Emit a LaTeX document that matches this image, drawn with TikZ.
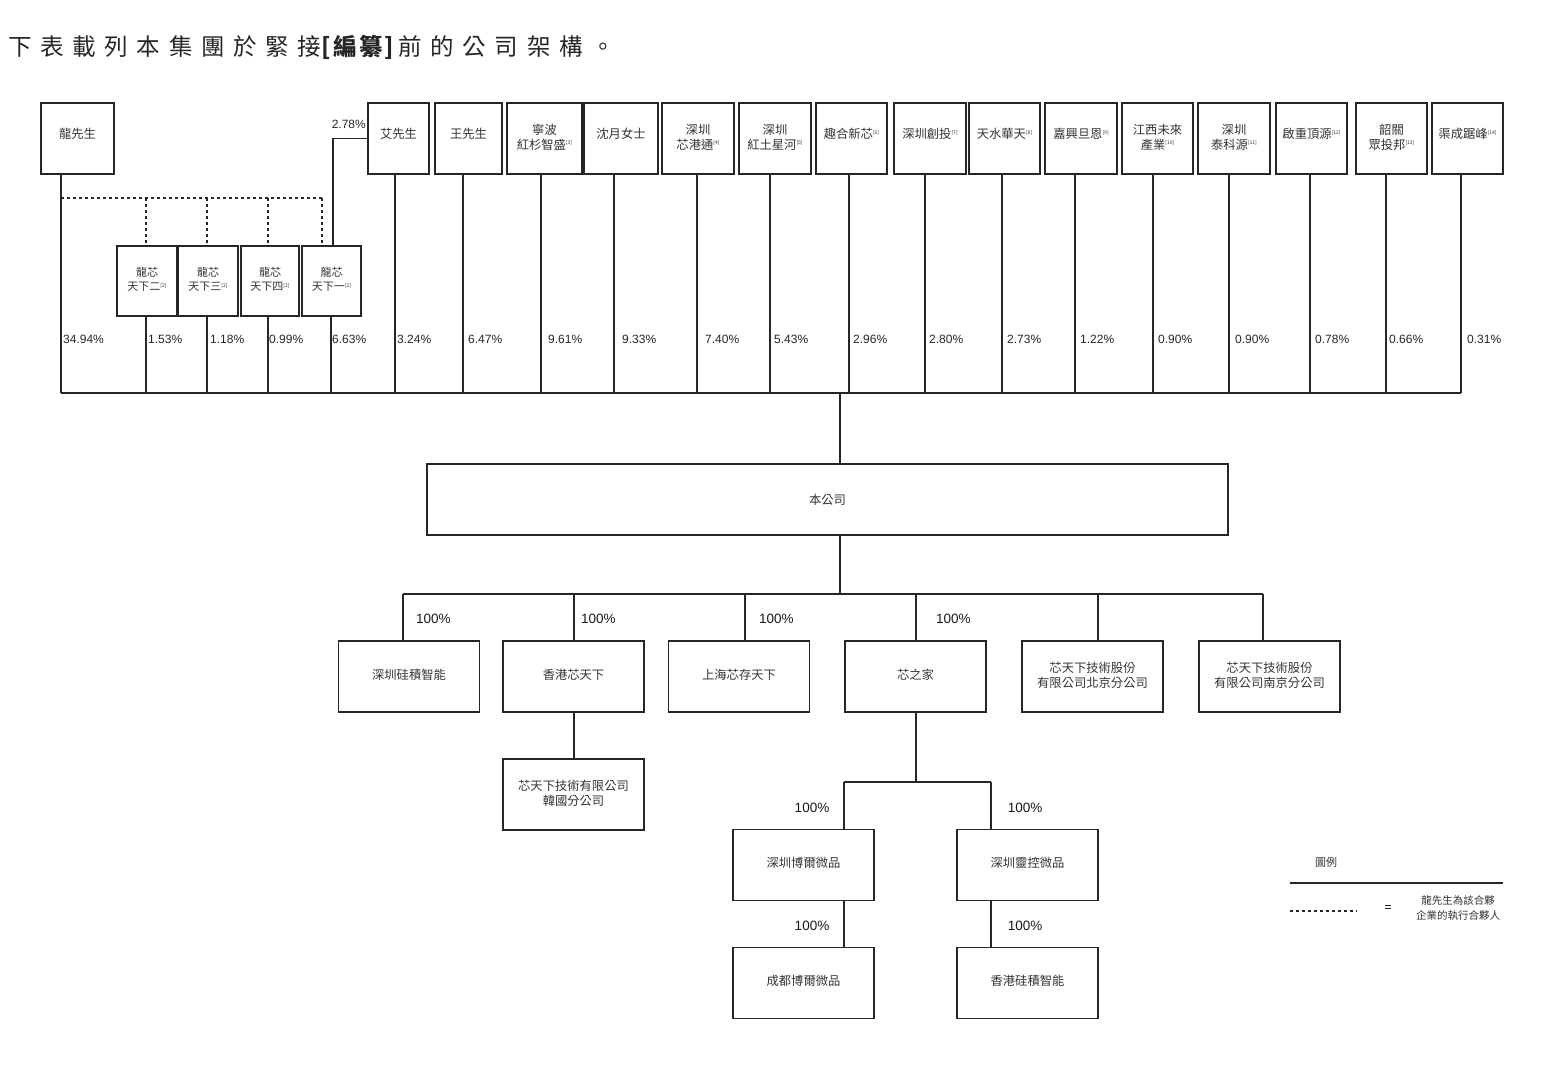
\documentclass[tikz,border=0pt]{standalone}
\usepackage{fontspec}
\setmainfont{Noto Sans CJK TC}
\newfontfamily\latf{Liberation Sans}
\newfontfamily\titlef[LetterSpace=37]{Noto Sans CJK TC}
\newfontfamily\titleb[LetterSpace=10]{Noto Sans CJK TC}
\newcommand\nt[1]{\raisebox{0.6ex}{\fontsize{5}{5}\selectfont[#1]}}
\newcommand\bx[1]{\raisebox{11pt}{\begin{tabular}{@{}c@{}}#1\end{tabular}}}
\newcommand\bs[1]{\raisebox{5.5pt}{\begin{tabular}{@{}c@{}}#1\end{tabular}}}
\tikzset{
  box/.style={draw=black!85, line width=1.5pt, inner sep=0pt, align=center,
    text=black!80, font=\fontsize{12.3}{15}\selectfont},
  tb/.style={box, minimum height=71pt},
  sb/.style={box, minimum height=70pt, font=\fontsize{11}{14}\selectfont},
  rb/.style={box, minimum width=141pt, minimum height=71pt},
  conn/.style={draw=black!85, line width=1.1pt},
  dconn/.style={draw=black!85, line width=1.1pt, dash pattern=on 3pt off 3pt},
  pct/.style={inner sep=0pt, anchor=west, font=\latf\fontsize{12}{12}\selectfont, text=black!85},
  hpct/.style={inner sep=0pt, font=\latf\fontsize{13.5}{13.5}\selectfont, text=black!90},
}
\begin{document}
\begin{tikzpicture}[x=1pt,y=-1pt]
\useasboundingbox[fill=white] (0,0) rectangle (1546,1084);

% title
\node[inner sep=0pt, anchor=west, text=black!85] (title) at (8,47)
  {\fontsize{23.5}{23.5}\selectfont\titlef 下表載列本集團於緊接{\titleb\bfseries [編纂]}\kern4pt 前的公司架構。};

% top row shareholders
\node[tb, minimum width=73pt] (long) at (77.5,138.5) {\bx{龍先生}};
\node[tb, minimum width=61pt] (ai) at (398.5,138.5) {\bx{艾先生}};
\node[tb, minimum width=67pt] (wang) at (468.5,138.5) {\bx{王先生}};
\node[tb, minimum width=75pt] (nb) at (544.5,138.5) {\bx{寧波\\紅杉智盛\nt{3}}};
\node[tb, minimum width=74pt] (shen) at (621,138.5) {\bx{沈月女士}};
\node[tb, minimum width=72pt] (xgt) at (698,138.5) {\bx{深圳\\芯港通\nt{4}}};
\node[tb, minimum width=72pt] (htxh) at (775,138.5) {\bx{深圳\\紅土星河\nt{5}}};
\node[tb, minimum width=71pt] (qh) at (851.5,138.5) {\bx{趣合新芯\nt{6}}};
\node[tb, minimum width=72pt] (szct) at (930,138.5) {\bx{深圳創投\nt{7}}};
\node[tb, minimum width=71pt] (tsht) at (1004.5,138.5) {\bx{天水華天\nt{8}}};
\node[tb, minimum width=72pt] (jx) at (1081,138.5) {\bx{嘉興旦恩\nt{9}}};
\node[tb, minimum width=71pt] (jxwl) at (1157.5,138.5) {\bx{江西未來\\產業\nt{10}}};
\node[tb, minimum width=72pt] (tky) at (1234,138.5) {\bx{深圳\\泰科源\nt{11}}};
\node[tb, minimum width=71pt] (qz) at (1311.5,138.5) {\bx{啟重頂源\nt{12}}};
\node[tb, minimum width=71pt] (sg) at (1391.5,138.5) {\bx{韶關\\眾投邦\nt{13}}};
\node[tb, minimum width=71pt] (qc) at (1467.5,138.5) {\bx{渠成踞峰\nt{14}}};

% partnership boxes
\node[sb, minimum width=60pt] (s2) at (147,281) {\bx{龍芯\\天下二\nt{2}}};
\node[sb, minimum width=60pt] (s3) at (208,281) {\bx{龍芯\\天下三\nt{2}}};
\node[sb, minimum width=58pt] (s4) at (270,281) {\bx{龍芯\\天下四\nt{2}}};
\node[sb, minimum width=59pt] (s1) at (331.5,281) {\bx{龍芯\\天下一\nt{2}}};

% dashed executive partner lines
\coordinate (d0) at (61,198);
\coordinate (dv2) at (146,198);
\coordinate (dv3) at (207,198);
\coordinate (dv4) at (268,198);
\coordinate (dv1) at (322,198);
\draw[dconn] (d0) -- (dv1);
\draw[dconn] (dv2) -- (s2.north -| dv2);
\draw[dconn] (dv3) -- (s3.north -| dv3);
\draw[dconn] (dv4) -- (s4.north -| dv4);
\draw[dconn] (dv1) -- (s1.north -| dv1);

% Ai -> Longxin Tianxia Yi
\coordinate (ak) at (333,138.5);
\draw[conn] (ai.west) -- (ak) -- (s1.north -| ak);
\node[pct, anchor=east] (p278) at (366,124) {2.78\%};

% bus coordinates
\coordinate (b01) at (61,393);
\coordinate (b02) at (146,393);
\coordinate (b03) at (207,393);
\coordinate (b04) at (268,393);
\coordinate (b05) at (331,393);
\coordinate (b06) at (395,393);
\coordinate (b07) at (463,393);
\coordinate (b08) at (541,393);
\coordinate (b09) at (614,393);
\coordinate (b10) at (697,393);
\coordinate (b11) at (770,393);
\coordinate (b12) at (849,393);
\coordinate (b13) at (925,393);
\coordinate (b14) at (1002,393);
\coordinate (b15) at (1075,393);
\coordinate (b16) at (1153,393);
\coordinate (b17) at (1229,393);
\coordinate (b18) at (1310,393);
\coordinate (b19) at (1386,393);
\coordinate (b20) at (1461,393);
\coordinate (bc) at (840,393);

\draw[conn] (long.south -| b01) -- (b01);
\draw[conn] (s2.south -| b02) -- (b02);
\draw[conn] (s3.south -| b03) -- (b03);
\draw[conn] (s4.south -| b04) -- (b04);
\draw[conn] (s1.south -| b05) -- (b05);
\draw[conn] (ai.south -| b06) -- (b06);
\draw[conn] (wang.south -| b07) -- (b07);
\draw[conn] (nb.south -| b08) -- (b08);
\draw[conn] (shen.south -| b09) -- (b09);
\draw[conn] (xgt.south -| b10) -- (b10);
\draw[conn] (htxh.south -| b11) -- (b11);
\draw[conn] (qh.south -| b12) -- (b12);
\draw[conn] (szct.south -| b13) -- (b13);
\draw[conn] (tsht.south -| b14) -- (b14);
\draw[conn] (jx.south -| b15) -- (b15);
\draw[conn] (jxwl.south -| b16) -- (b16);
\draw[conn] (tky.south -| b17) -- (b17);
\draw[conn] (qz.south -| b18) -- (b18);
\draw[conn] (sg.south -| b19) -- (b19);
\draw[conn] (qc.south -| b20) -- (b20);
\draw[conn] (b01) -- (b20);

% percentages
\node[pct] (q01) at (63,339) {34.94\%};
\node[pct] (q02) at (148,339) {1.53\%};
\node[pct] (q03) at (210,339) {1.18\%};
\node[pct] (q04) at (269,339) {0.99\%};
\node[pct] (q05) at (332,339) {6.63\%};
\node[pct] (q06) at (397,339) {3.24\%};
\node[pct] (q07) at (468,339) {6.47\%};
\node[pct] (q08) at (548,339) {9.61\%};
\node[pct] (q09) at (622,339) {9.33\%};
\node[pct] (q10) at (705,339) {7.40\%};
\node[pct] (q11) at (774,339) {5.43\%};
\node[pct] (q12) at (853,339) {2.96\%};
\node[pct] (q13) at (929,339) {2.80\%};
\node[pct] (q14) at (1007,339) {2.73\%};
\node[pct] (q15) at (1080,339) {1.22\%};
\node[pct] (q16) at (1158,339) {0.90\%};
\node[pct] (q17) at (1235,339) {0.90\%};
\node[pct] (q18) at (1315,339) {0.78\%};
\node[pct] (q19) at (1389,339) {0.66\%};
\node[pct] (q20) at (1467,339) {0.31\%};

% company
\node[box, minimum width=801pt, minimum height=71pt] (co) at (827.5,499.5) {本公司};
\draw[conn] (bc) -- (co.north -| bc);

% subsidiaries row
\node[rb] (r1) at (409,676.5) {\bs{深圳硅積智能}};
\node[rb] (r2) at (573.5,676.5) {\bs{香港芯天下}};
\node[rb] (r3) at (739,676.5) {\bs{上海芯存天下}};
\node[rb] (r4) at (915.5,676.5) {\bs{芯之家}};
\node[rb] (r5) at (1092.5,676.5) {\bs{芯天下技術股份\\有限公司北京分公司}};
\node[rb] (r6) at (1269.5,676.5) {\bs{芯天下技術股份\\有限公司南京分公司}};

\coordinate (cb) at (840,594);
\coordinate (c1) at (403,594);
\coordinate (c2) at (574,594);
\coordinate (c3) at (745,594);
\coordinate (c4) at (916,594);
\coordinate (c5) at (1098,594);
\coordinate (c6) at (1263,594);
\draw[conn] (co.south -| cb) -- (cb);
\draw[conn] (c1) -- (c6);
\draw[conn] (c1) -- (r1.north -| c1);
\draw[conn] (c2) -- (r2.north -| c2);
\draw[conn] (c3) -- (r3.north -| c3);
\draw[conn] (c4) -- (r4.north -| c4);
\draw[conn] (c5) -- (r5.north -| c5);
\draw[conn] (c6) -- (r6.north -| c6);
\node[hpct, anchor=west] (h1) at (416,619) {100\%};
\node[hpct, anchor=west] (h2) at (581,619) {100\%};
\node[hpct, anchor=west] (h3) at (759,619) {100\%};
\node[hpct, anchor=west] (h4) at (936,619) {100\%};

% Korea branch
\node[rb] (kr) at (573.5,794.5) {\bs{芯天下技術有限公司\\韓國分公司}};
\draw[conn] (r2.south -| c2) -- (kr.north -| c2);

% Xinzhijia subsidiaries
\node[rb] (bo) at (803.5,865) {\bs{深圳博爾微品}};
\node[rb] (lk) at (1027.5,865) {\bs{深圳靈控微品}};
\node[rb] (cd) at (803.5,983) {\bs{成都博爾微品}};
\node[rb] (hk) at (1027.5,983) {\bs{香港硅積智能}};
\coordinate (xm) at (916,782);
\coordinate (xl) at (844,782);
\coordinate (xr) at (991,782);
\draw[conn] (r4.south -| xm) -- (xm);
\draw[conn] (xl) -- (xr);
\draw[conn] (xl) -- (bo.north -| xl);
\draw[conn] (xr) -- (lk.north -| xr);
\draw[conn] (bo.south -| xl) -- (cd.north -| xl);
\draw[conn] (lk.south -| xr) -- (hk.north -| xr);
\node[hpct] (h5) at (812,808) {100\%};
\node[hpct] (h6) at (1025,808) {100\%};
\node[hpct] (h7) at (812,926) {100\%};
\node[hpct] (h8) at (1025,926) {100\%};

% legend
\node[inner sep=0pt, text=black!80, font=\fontsize{11}{11}\selectfont] (lg) at (1326,862) {圖例};
\coordinate (lgA) at (1290,883);
\coordinate (lgB) at (1503,883);
\draw[draw=black!85, line width=1.6pt] (lgA) -- (lgB);
\coordinate (lgC) at (1290,911);
\coordinate (lgD) at (1357,911);
\draw[dconn] (lgC) -- (lgD);
\node[inner sep=0pt, font=\latf\fontsize{12}{12}\selectfont] (eq) at (1388,909) {=};
\node[inner sep=0pt, align=center, text=black!80, font=\fontsize{10.5}{15}\selectfont] (lgt) at (1458,908) {龍先生為該合夥\\企業的執行合夥人};
\end{tikzpicture}
\end{document}
